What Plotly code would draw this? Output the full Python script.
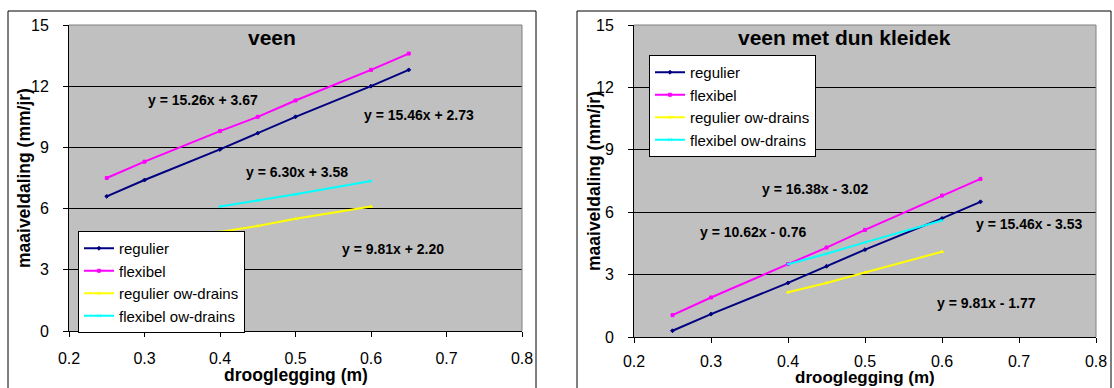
import plotly.graph_objects as go

W, H = 1114, 388

# ---- data ----
series_names = ["regulier", "flexibel", "regulier ow-drains", "flexibel ow-drains"]
x_main = [0.25, 0.30, 0.40, 0.45, 0.50, 0.60, 0.65]
x_ow = [0.40, 0.45, 0.50, 0.60]

veen_regulier = [6.6, 7.4, 8.9, 9.7, 10.5, 12.0, 12.8]
veen_flexibel = [7.5, 8.3, 9.8, 10.5, 11.3, 12.8, 13.6]
veen_regulier_ow = [4.85, 5.15, 5.5, 6.1]
veen_flexibel_ow = [6.1, 6.4, 6.7, 7.35]

klei_regulier = [0.3, 1.1, 2.6, 3.4, 4.2, 5.7, 6.5]
klei_flexibel = [1.05, 1.9, 3.5, 4.3, 5.15, 6.8, 7.6]
klei_regulier_ow = [2.15, 2.6, 3.1, 4.1]
klei_flexibel_ow = [3.5, 4.0, 4.55, 5.6]

veen_equations = ["y = 15.26x + 3.67", "y = 15.46x + 2.73", "y = 6.30x + 3.58", "y = 9.81x + 2.20"]
klei_equations = ["y = 16.38x - 3.02", "y = 10.62x - 0.76", "y = 15.46x - 3.53", "y = 9.81x - 1.77"]
titles = ["veen", "veen met dun kleidek"]
x_title = "drooglegging (m)"
y_title = "maaiveldaling (mm/jr)"
x_ticks = [0.2, 0.3, 0.4, 0.5, 0.6, 0.7, 0.8]
y_ticks = [0, 3, 6, 9, 12, 15]

FONT = "Arial, Liberation Sans, sans-serif"
colors = ["#000080", "#FF00FF", "#FFFF00", "#00FFFF"]
symbols = ["diamond", "square", "triangle-up", "x-thin-open"]


def px(x):
    return x / W


def py(y):
    return 1 - y / H


fig = go.Figure()

panels = [
    (veen_regulier, veen_flexibel, veen_regulier_ow, veen_flexibel_ow),
    (klei_regulier, klei_flexibel, klei_regulier_ow, klei_flexibel_ow),
]
for p, data in enumerate(panels):
    xa = "x" if p == 0 else "x2"
    ya = "y" if p == 0 else "y2"
    lg = "legend" if p == 0 else "legend2"
    for i, (name, ys) in enumerate(zip(series_names, data)):
        xs = x_main if i < 2 else x_ow
        fig.add_trace(go.Scatter(
            x=xs, y=ys, name=name, mode="lines+markers",
            line=dict(color=colors[i], width=2),
            marker=dict(color=colors[i], size=3, symbol=symbols[i],
                        line=dict(color=colors[i], width=1)),
            xaxis=xa, yaxis=ya, legend=lg,
        ))

# plot areas (pixels)
areas = [(69, 25, 522, 331), (634, 25, 1096, 337)]
frames = [(8, 11, 536, 392), (577, 11, 1111, 392)]

axis_common = dict(
    showline=True, linecolor="black", linewidth=1,
    ticks="outside", ticklen=5, tickcolor="black",
    tickfont=dict(family=FONT, size=16, color="black"),
    zeroline=False, automargin=False,
)
fig.update_layout(
    xaxis=dict(domain=[px(areas[0][0]), px(areas[0][2])], range=[0.2, 0.8],
               tickvals=x_ticks, tickformat=".1f", showgrid=False, anchor="y",
               ticklabelstandoff=8, **axis_common),
    yaxis=dict(domain=[py(areas[0][3]), py(areas[0][1])], range=[0, 15],
               tickvals=y_ticks, showgrid=True, gridcolor="black", gridwidth=1,
               anchor="x", ticklabelstandoff=11, **axis_common),
    xaxis2=dict(domain=[px(areas[1][0]), px(areas[1][2])], range=[0.2, 0.8],
                tickvals=x_ticks, tickformat=".1f", showgrid=False, anchor="y2",
                ticklabelstandoff=5, **axis_common),
    yaxis2=dict(domain=[py(areas[1][3]), py(areas[1][1])], range=[0, 15],
                tickvals=y_ticks, showgrid=True, gridcolor="black", gridwidth=1,
                anchor="x2", ticklabelstandoff=11, **axis_common),
)

shapes = []
for (x0, y0, x1, y1) in frames:
    shapes.append(dict(type="rect", xref="paper", yref="paper",
                       x0=px(x0), y0=py(y1), x1=px(x1), y1=py(y0),
                       line=dict(color="black", width=1), fillcolor="rgba(0,0,0,0)",
                       layer="below"))
for (x0, y0, x1, y1) in areas:
    shapes.append(dict(type="path", xref="paper", yref="paper",
                       path=f"M {px(x0)},{py(y0)} L {px(x1)},{py(y0)} L {px(x1)},{py(y1)}",
                       line=dict(color="#808080", width=1), layer="above"))
fig.update_layout(shapes=shapes)

ann = []
# titles
title_pos = [(272, 38), (844, 37)]
for t, (x, y) in zip(titles, title_pos):
    ann.append(dict(text=f"<b>{t}</b>", x=px(x), y=py(y), xref="paper", yref="paper",
                    showarrow=False, xanchor="center", yanchor="middle",
                    font=dict(family=FONT, size=21, color="black")))
# axis titles
for (x, y, fs) in [(296, 375, 17.5), (865, 377.5, 17)]:
    ann.append(dict(text=f"<b>{x_title}</b>", x=px(x), y=py(y), xref="paper", yref="paper",
                    showarrow=False, xanchor="center", yanchor="middle",
                    font=dict(family=FONT, size=fs, color="black")))
for (x, y) in [(24, 178), (594, 181)]:
    ann.append(dict(text=f"<b>{y_title}</b>", x=px(x), y=py(y), xref="paper", yref="paper",
                    showarrow=False, xanchor="center", yanchor="middle", textangle=-90,
                    font=dict(family=FONT, size=17.5, color="black")))
# equations
veen_eq_pos = [(203, 100), (419, 115), (297, 172), (393, 249)]
klei_eq_pos = [(815, 189), (753, 232), (1029, 224), (986, 303)]
for t, (x, y) in list(zip(veen_equations, veen_eq_pos)) + list(zip(klei_equations, klei_eq_pos)):
    ann.append(dict(text=f"<b>{t}</b>", x=px(x), y=py(y), xref="paper", yref="paper",
                    showarrow=False, xanchor="center", yanchor="middle",
                    font=dict(family=FONT, size=14, color="black")))
fig.update_layout(annotations=ann)

legend_common = dict(
    bgcolor="white", bordercolor="black", borderwidth=1,
    font=dict(family=FONT, size=15, color="black"),
    xanchor="left", yanchor="top", tracegroupgap=0, itemwidth=30,
)
fig.update_layout(
    legend=dict(x=px(78), y=py(231), **legend_common),
    legend2=dict(x=px(649), y=py(55), **legend_common),
)

fig.update_layout(
    width=W, height=H, margin=dict(l=0, r=0, t=0, b=0),
    paper_bgcolor="white", plot_bgcolor="#C0C0C0",
    showlegend=True,
    font=dict(family=FONT, color="black"),
)

fig.write_html("out.html")
